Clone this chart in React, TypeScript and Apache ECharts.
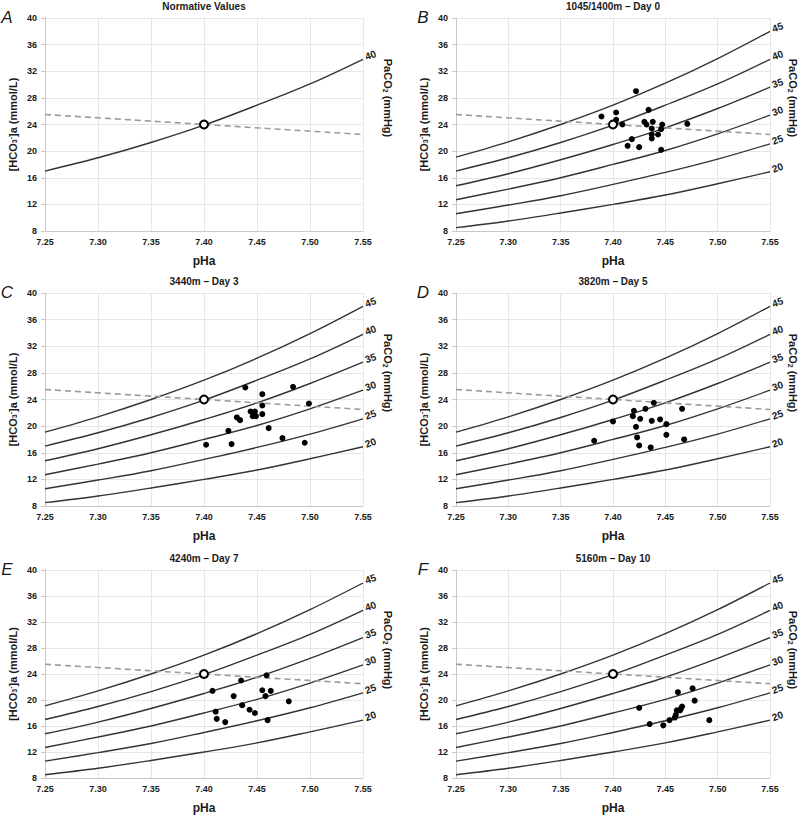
import React, { useEffect, useRef } from "react";
import * as echarts from "echarts";

// pH grid for the PaCO2 isopleths
const PH = [7.25, 7.3, 7.35, 7.4, 7.45, 7.5, 7.55];
// [HCO3-] along each PaCO2 isopleth (mmol/L)
const ISO_20 = [8.5, 9.5, 10.7, 12.0, 13.4, 15.1, 16.9];
const ISO_25 = [10.6, 11.9, 13.3, 15.0, 16.8, 18.8, 21.1];
const ISO_30 = [12.7, 14.3, 16.0, 18.0, 20.1, 22.6, 25.4];
const ISO_35 = [14.8, 16.6, 18.7, 21.0, 23.5, 26.4, 29.6];
const ISO_40 = [17.0, 19.0, 21.3, 23.9, 26.9, 30.1, 33.8];
const ISO_45 = [19.1, 21.4, 24.0, 26.9, 30.2, 33.9, 38.0];

// buffer line and normal value
const BUFFER_LINE = [[7.25, 25.5], [7.55, 22.5]];
const NORMAL = [[7.4, 24.0]];

// individual subject values [pHa, HCO3-]
const DAY0 = [
  [7.389, 25.2], [7.403, 25.8], [7.403, 24.7], [7.409, 24.0], [7.422, 29.0],
  [7.418, 21.8], [7.414, 20.8], [7.425, 20.6], [7.43, 24.4], [7.432, 24.0],
  [7.434, 26.2], [7.438, 24.4], [7.437, 23.4], [7.437, 22.5], [7.437, 21.9],
  [7.443, 22.5], [7.446, 23.3], [7.447, 24.0], [7.446, 20.2], [7.471, 24.1],
];
const DAY3 = [
  [7.402, 17.2], [7.426, 17.3], [7.423, 19.3], [7.431, 21.3], [7.434, 20.9],
  [7.439, 25.8], [7.444, 22.2], [7.448, 22.2], [7.446, 21.5], [7.449, 21.5],
  [7.455, 24.8], [7.455, 23.1], [7.455, 21.8], [7.461, 19.7], [7.474, 18.2],
  [7.484, 25.9], [7.495, 17.5], [7.499, 23.4],
];
const DAY5 = [
  [7.382, 17.8], [7.4, 20.7], [7.419, 21.5], [7.42, 22.3], [7.422, 19.9],
  [7.423, 18.3], [7.425, 17.1], [7.426, 21.1], [7.431, 22.6], [7.437, 20.8],
  [7.436, 16.8], [7.439, 23.5], [7.445, 21.0], [7.451, 20.3], [7.451, 18.7],
  [7.466, 22.6], [7.468, 18.0],
];
const DAY7 = [
  [7.408, 21.4], [7.411, 18.2], [7.412, 17.1], [7.42, 16.6], [7.428, 20.6],
  [7.435, 23.0], [7.436, 19.2], [7.443, 18.5], [7.448, 18.0], [7.455, 21.5],
  [7.458, 20.6], [7.459, 23.8], [7.46, 16.9], [7.463, 21.4], [7.48, 19.8],
];
const DAY10 = [
  [7.425, 18.8], [7.435, 16.3], [7.448, 16.1], [7.454, 16.9], [7.459, 17.3],
  [7.46, 17.7], [7.461, 18.4], [7.462, 21.2], [7.464, 18.4], [7.465, 18.7],
  [7.466, 19.0], [7.476, 21.8], [7.478, 19.9], [7.492, 16.9],
];

const TITLES = [
  "Normative Values",
  "1045/1400m \u2013 Day 0",
  "3440m \u2013 Day 3",
  "3820m \u2013 Day 5",
  "4240m \u2013 Day 7",
  "5160m \u2013 Day 10",
];
const LETTERS = ["A", "B", "C", "D", "E", "F"];
const X_TICKS_MIN = 7.25;
const X_TICKS_MAX = 7.55;
const Y_MIN = 8;
const Y_MAX = 40;

const ALL_ISOS: [string, number[]][] = [
  ["45", ISO_45],
  ["40", ISO_40],
  ["35", ISO_35],
  ["30", ISO_30],
  ["25", ISO_25],
  ["20", ISO_20],
];

const PANELS = [
  { isos: [["40", ISO_40]] as [string, number[]][], pts: [] as number[][] },
  { isos: ALL_ISOS, pts: DAY0 },
  { isos: ALL_ISOS, pts: DAY3 },
  { isos: ALL_ISOS, pts: DAY5 },
  { isos: ALL_ISOS, pts: DAY7 },
  { isos: ALL_ISOS, pts: DAY10 },
];

const ROW_TOPS = [18, 293, 570];
const PLOT_H = 213;
const COL_LEFT = [45, 456];
const COL_W = [318, 314];
const TXT = "#1a1a1a";
const FONT = "Liberation Sans, Arial, sans-serif";

export default function App() {
  const ref = useRef<HTMLDivElement>(null);
  useEffect(() => {
    if (!ref.current) return;
    const chart = echarts.init(ref.current, null, { renderer: "svg" });
    const grids: any[] = [];
    const xAxes: any[] = [];
    const yAxes: any[] = [];
    const series: any[] = [];
    const graphics: any[] = [];

    PANELS.forEach((p, i) => {
      const col = i % 2;
      const row = Math.floor(i / 2);
      const left = COL_LEFT[col];
      const top = ROW_TOPS[row];
      const w = COL_W[col];
      grids.push({ left, top, width: w, height: PLOT_H, containLabel: false });
      xAxes.push({
        gridIndex: i,
        type: "value",
        min: X_TICKS_MIN,
        max: X_TICKS_MAX,
        interval: 0.05,
        name: "pHa",
        nameLocation: "middle",
        nameGap: 24,
        nameTextStyle: { fontSize: 12, fontWeight: "bold", color: TXT, fontFamily: FONT },
        axisLine: { show: true, lineStyle: { color: "#c8c8c8" } },
        axisTick: { show: false },
        axisLabel: {
          fontSize: 9,
          fontWeight: "bold",
          color: TXT,
          fontFamily: FONT,
          margin: 6,
          formatter: (v: number) => v.toFixed(2),
        },
        splitLine: { show: true, lineStyle: { color: "#e6e6e6", width: 1 } },
      });
      yAxes.push({
        gridIndex: i,
        type: "value",
        min: Y_MIN,
        max: Y_MAX,
        interval: 4,
        name: "[HCO{sub|3}{sup|-}]a (mmol/L)",
        nameLocation: "middle",
        nameGap: 27,
        nameRotate: 90,
        nameTextStyle: {
          fontSize: 11,
          fontWeight: "bold",
          color: TXT,
          fontFamily: FONT,
          rich: {
            sub: { fontSize: 7, fontWeight: "bold", color: TXT, verticalAlign: "bottom", padding: [4, 0, 0, 0] },
            sup: { fontSize: 7, fontWeight: "bold", color: TXT, verticalAlign: "top", padding: [0, 0, 4, 0] },
          },
        },
        axisLine: { show: true, lineStyle: { color: "#c8c8c8" } },
        axisTick: { show: true, length: 4, lineStyle: { color: "#c8c8c8" } },
        axisLabel: { fontSize: 9, fontWeight: "bold", color: TXT, fontFamily: FONT, margin: 8 },
        splitLine: { show: true, lineStyle: { color: "#e6e6e6", width: 1 } },
      });

      p.isos.forEach(([name, vals]) => {
        series.push({
          type: "line",
          name: "PaCO2 " + name + " (panel " + LETTERS[i] + ")",
          xAxisIndex: i,
          yAxisIndex: i,
          data: PH.map((ph, k) => [ph, vals[k]]),
          smooth: 0.35,
          showSymbol: false,
          symbol: "none",
          lineStyle: { color: "#333", width: 1.4 },
          clip: false,
          z: 2,
          endLabel: {
            show: true,
            formatter: name,
            fontSize: 10,
            fontWeight: "bold",
            color: TXT,
            fontFamily: FONT,
            rotate: 20,
            distance: 2,
            offset: [1, -2],
          },
        });
      });
      series.push({
        type: "line",
        xAxisIndex: i,
        yAxisIndex: i,
        data: BUFFER_LINE,
        showSymbol: false,
        symbol: "none",
        lineStyle: { color: "#9a9a9a", width: 1.6, type: [6, 4] },
        z: 3,
      });
      if (p.pts.length) {
        series.push({
          type: "scatter",
          xAxisIndex: i,
          yAxisIndex: i,
          data: p.pts,
          symbolSize: 6,
          itemStyle: { color: "#000", opacity: 1 },
          z: 4,
        });
      }
      series.push({
        type: "scatter",
        xAxisIndex: i,
        yAxisIndex: i,
        data: NORMAL,
        symbolSize: 8,
        itemStyle: { color: "#fff", borderColor: "#000", borderWidth: 2, opacity: 1 },
        z: 5,
      });

      graphics.push({
        type: "text",
        x: left + w / 2,
        y: top - 12,
        style: {
          text: TITLES[i],
          fontSize: 10,
          fontWeight: "bold",
          fill: TXT,
          fontFamily: FONT,
          align: "center",
          verticalAlign: "middle",
        },
      });
      graphics.push({
        type: "text",
        x: col === 0 ? 7 : 423,
        y: top - 1,
        style: {
          text: LETTERS[i],
          fontSize: 17,
          fontStyle: "italic",
          fill: TXT,
          fontFamily: FONT,
          align: "center",
          verticalAlign: "middle",
        },
      });
      graphics.push({
        type: "text",
        x: col === 0 ? 388 : 793,
        y: top + 80,
        rotation: -Math.PI / 2,
        style: {
          text: "PaCO{sub|2} (mmHg)",
          fontSize: 11,
          fontWeight: "bold",
          fill: TXT,
          fontFamily: FONT,
          align: "center",
          verticalAlign: "middle",
          rich: {
            sub: { fontSize: 7, fontWeight: "bold", fill: TXT, fontFamily: FONT, verticalAlign: "bottom", padding: [5, 0, 0, 0] },
          },
        },
      });
    });

    chart.setOption({
      animation: false,
      backgroundColor: "#fff",
      textStyle: { fontFamily: FONT },
      grid: grids,
      xAxis: xAxes,
      yAxis: yAxes,
      series,
      graphic: graphics,
    });
    return () => chart.dispose();
  }, []);
  return (
    <div
      ref={ref}
      style={{ position: "fixed", left: 0, top: 0, width: 800, height: 815, background: "#fff" }}
    />
  );
}
